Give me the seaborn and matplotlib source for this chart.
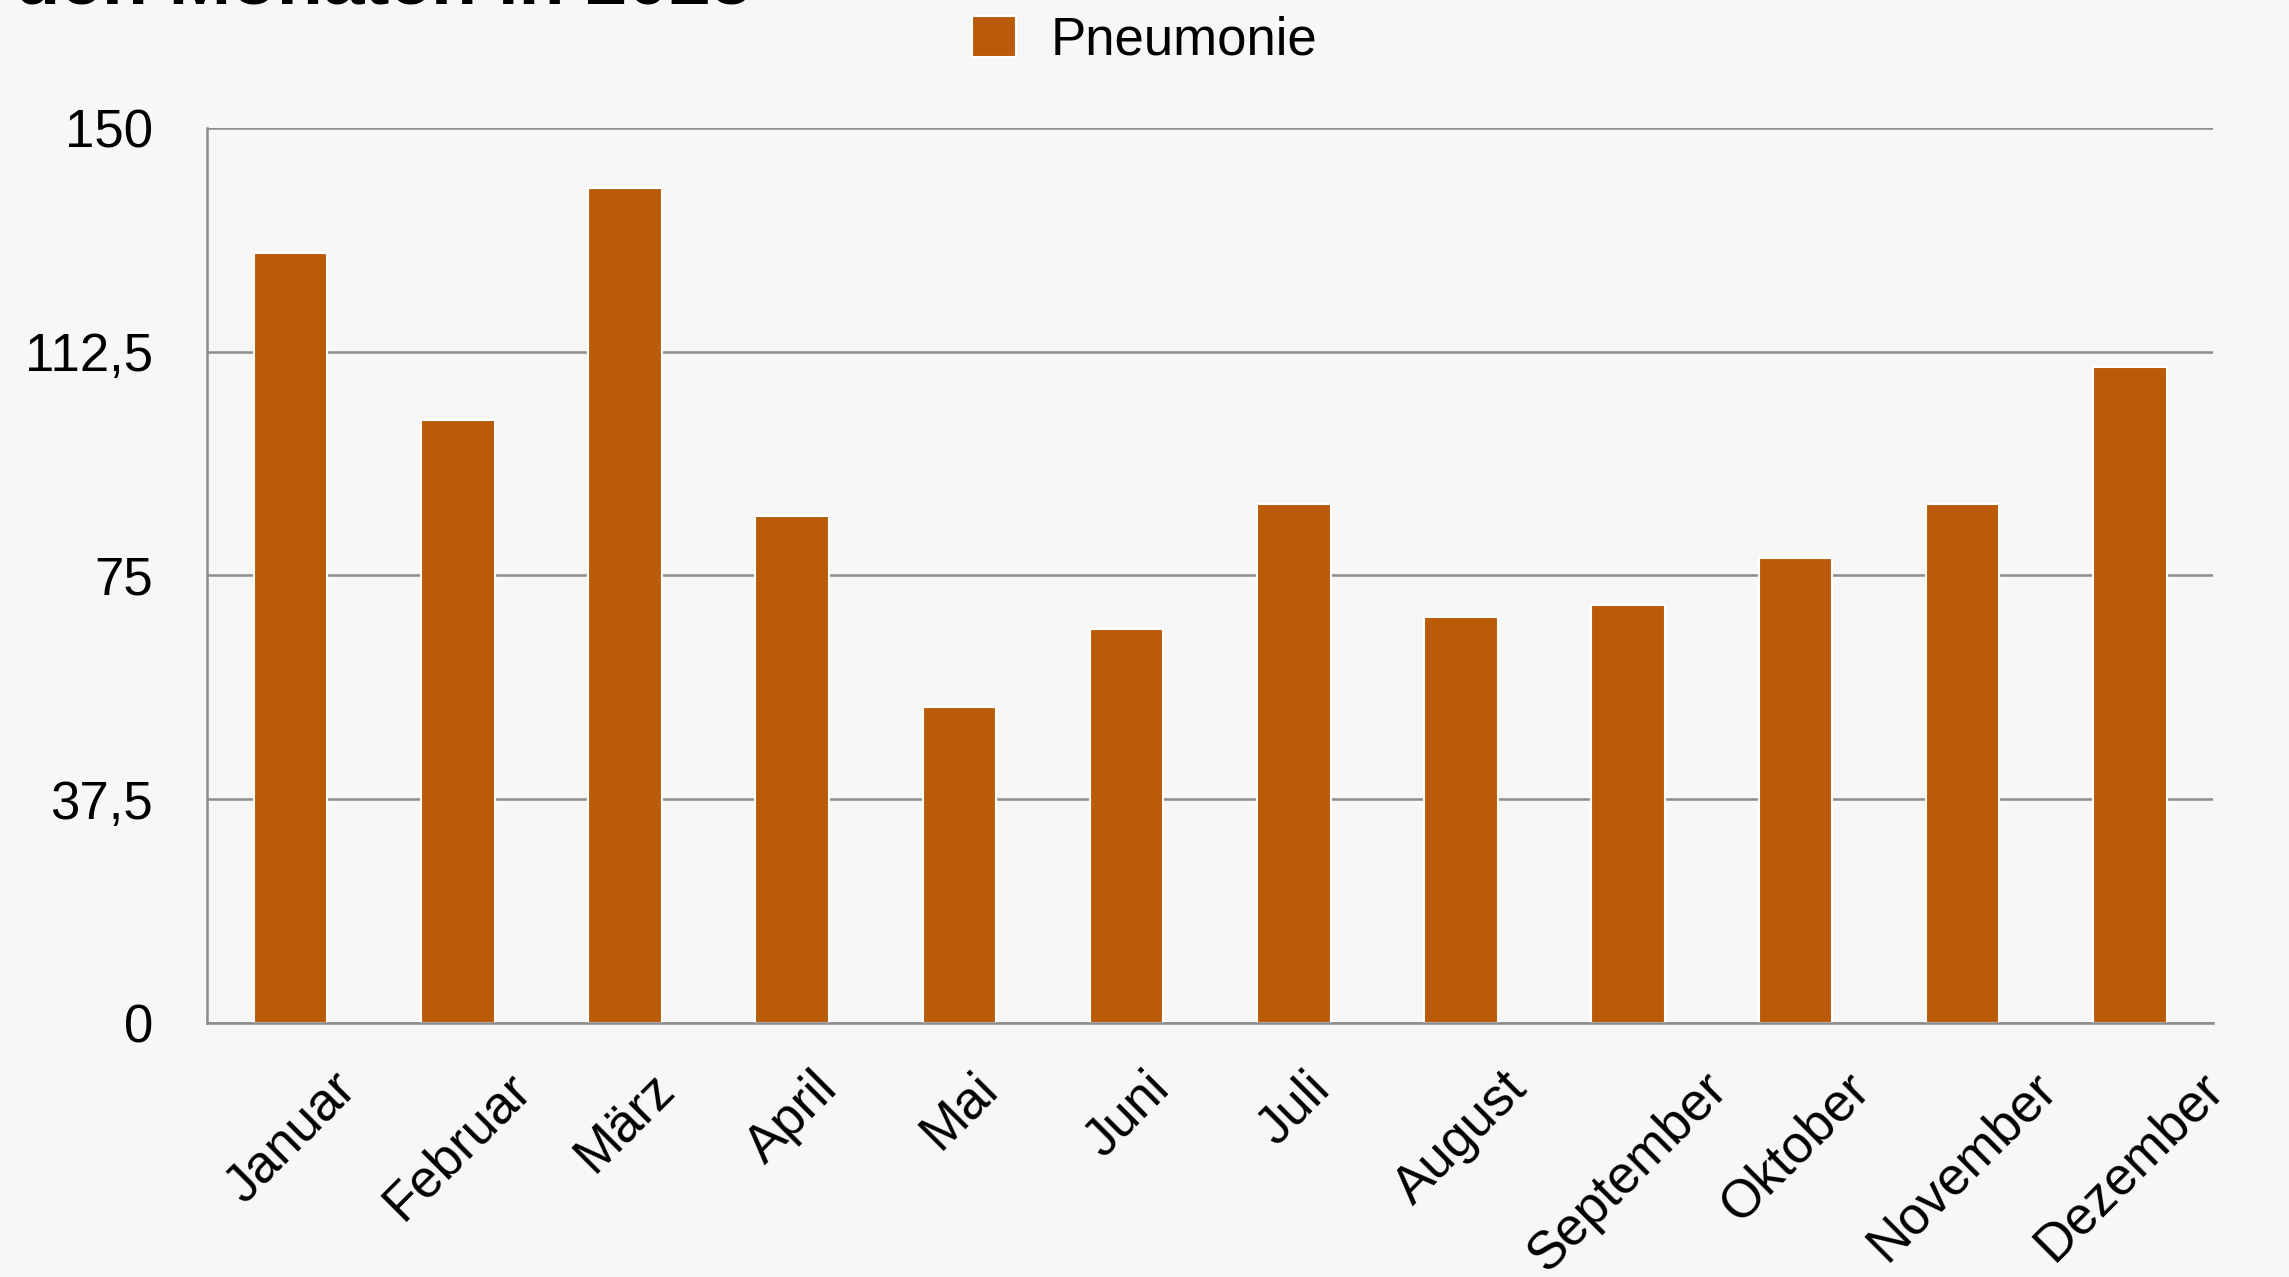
import seaborn as sns
import matplotlib.pyplot as plt
import pandas as pd

# Daten
monate = ["Januar", "Februar", "März", "April", "Mai", "Juni", "Juli",
          "August", "September", "Oktober", "November", "Dezember"]
faelle = [129, 101, 140, 85, 53, 66, 87, 68, 70, 78, 87, 110]
serie = "Pneumonie"
y_ticks = [0, 37.5, 75, 112.5, 150]
y_labels = ["0", "37,5", "75", "112,5", "150"]
titel = "Pneumonie-Fälle in den Monaten in 2025"

df = pd.DataFrame({"Monat": monate, "Fälle": faelle, "Serie": serie})

bg = "#F7F7F7"
grau = "#8C8C8C"

sns.set_style("white")
plt.rcParams["font.family"] = ["Liberation Sans", "DejaVu Sans"]
plt.rcParams["text.color"] = "black"
plt.rcParams["xtick.color"] = "black"
plt.rcParams["ytick.color"] = "black"

fig = plt.figure(figsize=(22.89, 12.77), dpi=100, facecolor=bg)
ax = fig.add_axes([0.0904, 0.199, 0.8766, 0.7008])
ax.set_facecolor(bg)

sns.barplot(data=df, x="Monat", y="Fälle", hue="Serie", palette=["#BA5B07"],
            saturation=1, width=0.44, edgecolor="white", linewidth=1.5, ax=ax)

ax.set_xlim(-0.5, 11.5)
ax.set_ylim(0, 150)
ax.set_yticks(y_ticks, y_labels)
ax.set_axisbelow(True)
ax.yaxis.grid(True, color=grau, lw=1.8)
ax.set_xlabel("")
ax.set_ylabel("")

for s in ["top", "right"]:
    ax.spines[s].set_visible(False)
for s in ["left", "bottom"]:
    ax.spines[s].set_color(grau)
    ax.spines[s].set_linewidth(1.8)

ax.set_xticks(range(len(monate)), monate, rotation=45, ha="center")
ax.set_xticks([i - 0.5 for i in range(len(monate) + 1)], minor=True)
ax.tick_params(axis="x", which="major", length=0, pad=29, labelsize=38,
               labelcolor="black")
ax.tick_params(axis="x", which="minor", length=5, width=1.8, color=grau, direction="out")
ax.tick_params(axis="y", length=5, width=1.8, color=grau, pad=34, labelsize=38,
               labelcolor="black")

ax.legend(loc="center", bbox_to_anchor=(0.5, 0.968), bbox_transform=fig.transFigure,
          frameon=False, fontsize=38, handlelength=0.83, handleheight=0.83,
          handletextpad=0.65, labelcolor="black")

fig.text(752 / 2289, 1 - 3 / 1277, titel, ha="right", va="baseline",
         fontsize=54, fontweight="bold", color="black")

fig.savefig("out.png", dpi=100, facecolor=bg)
